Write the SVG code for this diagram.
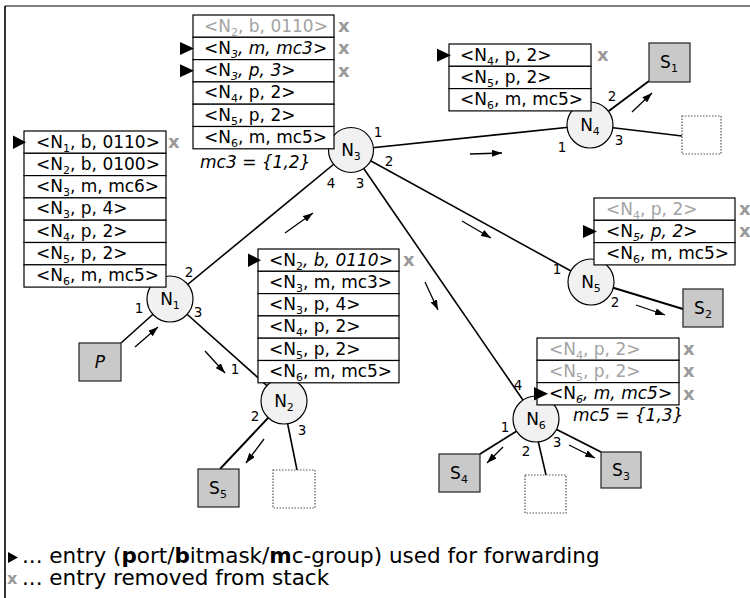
<svg xmlns="http://www.w3.org/2000/svg" width="750" height="598" viewBox="0 0 750 598">
  <defs>
    <style>
      text { font-family: Verdana, "DejaVu Sans", sans-serif; }
      .e { font-size: 17px; fill: #000; }
      .gone { fill: #a3a3a3; }
      .it { font-style: italic; }
      .sub { font-size: 11px; }
      .row { fill: #fff; stroke: #000; stroke-width: 1.2; }
      .rm { font-size: 18px; font-weight: bold; fill: #9a9a9a; }
      .use { fill: #000; }
      .node { fill: #f1f1f1; stroke: #000; stroke-width: 1.2; }
      .host { fill: #c9c9c9; stroke: #222; stroke-width: 1.2; }
      .idle { fill: #fff; stroke: #555; stroke-width: 1.2; stroke-dasharray: 1.5 1.5; }
      .link { stroke: #000; stroke-width: 1.6; fill: none; }
      .hlink { stroke: #000; stroke-width: 1.9; fill: none; }
      .flow { stroke: #000; stroke-width: 1.3; fill: none; marker-end: url(#head); }
      .port { font-size: 13.5px; fill: #000; text-anchor: middle; }
      .lbl { font-size: 17px; text-anchor: middle; }
      .leg { font-size: 21.5px; fill: #000; }
    </style>
    <marker id="head" viewBox="0 0 10 7" refX="10" refY="3.5" markerWidth="10" markerHeight="7" markerUnits="userSpaceOnUse" orient="auto">
      <path d="M0,0 L10,3.5 L0,7 z" fill="#000"/>
    </marker>
  </defs>

  <rect x="0" y="0" width="750" height="598" fill="#fff"/>
  <!-- frame -->
  <line x1="5" y1="6" x2="750" y2="6" stroke="#808080" stroke-width="2"/>
  <line x1="5" y1="6" x2="5" y2="598" stroke="#000" stroke-width="1.6"/>

  <!-- links and traffic direction -->
  <g id="connectors">
    <line class="link" x1="121" y1="343" x2="170" y2="299"/>
    <line class="link" x1="170" y1="299" x2="351" y2="150"/>
    <line class="link" x1="170" y1="299" x2="284" y2="401"/>
    <line class="hlink" x1="284" y1="401" x2="220" y2="469"/>
    <line class="link" x1="283" y1="401" x2="297" y2="470"/>
    <line class="link" x1="351" y1="150" x2="590" y2="125"/>
    <line class="hlink" x1="590" y1="125" x2="649" y2="81"/>
    <line class="link" x1="590" y1="125" x2="682" y2="136"/>
    <line class="link" x1="351" y1="150" x2="591" y2="282"/>
    <line class="hlink" x1="591" y1="281" x2="683" y2="309"/>
    <line class="link" x1="351" y1="150" x2="536" y2="419"/>
    <line class="hlink" x1="536" y1="419" x2="480" y2="454"/>
    <line class="link" x1="533" y1="419" x2="546" y2="475"/>
    <line class="hlink" x1="536" y1="419" x2="601" y2="452"/>

    <line class="flow" x1="135" y1="347" x2="158" y2="327"/>
    <line class="flow" x1="285" y1="233" x2="313" y2="213"/>
    <line class="flow" x1="205" y1="351" x2="225" y2="373"/>
    <line class="flow" x1="264" y1="439" x2="246" y2="463"/>
    <line class="flow" x1="470" y1="154" x2="502" y2="153"/>
    <line class="flow" x1="632" y1="112" x2="652" y2="93"/>
    <line class="flow" x1="462" y1="221" x2="491" y2="238"/>
    <line class="flow" x1="636" y1="305" x2="665" y2="315"/>
    <line class="flow" x1="425" y1="282" x2="438" y2="310"/>
    <line class="flow" x1="503" y1="447" x2="487" y2="463"/>
    <line class="flow" x1="569" y1="445" x2="595" y2="458"/>

    <!-- port numbers -->
    <text class="port" x="139" y="313">1</text>
    <text class="port" x="189" y="277">2</text>
    <text class="port" x="198" y="317">3</text>
    <text class="port" x="235" y="374">1</text>
    <text class="port" x="255" y="421">2</text>
    <text class="port" x="302" y="435">3</text>
    <text class="port" x="378" y="137">1</text>
    <text class="port" x="389" y="166">2</text>
    <text class="port" x="360" y="188">3</text>
    <text class="port" x="331" y="188">4</text>
    <text class="port" x="562" y="152">1</text>
    <text class="port" x="612" y="101">2</text>
    <text class="port" x="619" y="145">3</text>
    <text class="port" x="557" y="274">1</text>
    <text class="port" x="615" y="307">2</text>
    <text class="port" x="505" y="432">1</text>
    <text class="port" x="526" y="456">2</text>
    <text class="port" x="557" y="447">3</text>
    <text class="port" x="518" y="390">4</text>
  </g>

  <!-- switches -->
  <g id="n1"><circle class="node" cx="170" cy="299" r="23"/><text class="lbl" x="170" y="305">N<tspan class="sub" dy="4">1</tspan></text></g>
  <g id="n2"><circle class="node" cx="284" cy="401" r="23"/><text class="lbl" x="284" y="407">N<tspan class="sub" dy="4">2</tspan></text></g>
  <g id="n3"><circle class="node" cx="351" cy="150" r="22.5"/><text class="lbl" x="351" y="156">N<tspan class="sub" dy="4">3</tspan></text></g>
  <g id="n4"><circle class="node" cx="590" cy="125" r="23"/><text class="lbl" x="590" y="131">N<tspan class="sub" dy="4">4</tspan></text></g>
  <g id="n5"><circle class="node" cx="591" cy="282" r="23"/><text class="lbl" x="591" y="288">N<tspan class="sub" dy="4">5</tspan></text></g>
  <g id="n6"><circle class="node" cx="536" cy="419" r="23"/><text class="lbl" x="536" y="425">N<tspan class="sub" dy="4">6</tspan></text></g>

  <!-- end hosts -->
  <g id="p"><rect class="host" x="79" y="343" width="42" height="38"/><text class="lbl it" x="100" y="368">P</text></g>
  <g id="s1"><rect class="host" x="649" y="43" width="41" height="39"/><text class="lbl" x="669" y="68">S<tspan class="sub" dy="4">1</tspan></text></g>
  <g id="s2"><rect class="host" x="683" y="289" width="40" height="38"/><text class="lbl" x="703" y="314">S<tspan class="sub" dy="4">2</tspan></text></g>
  <g id="s3"><rect class="host" x="601" y="452" width="40" height="36"/><text class="lbl" x="621" y="476">S<tspan class="sub" dy="4">3</tspan></text></g>
  <g id="s4"><rect class="host" x="439" y="454" width="41" height="38"/><text class="lbl" x="459" y="479">S<tspan class="sub" dy="4">4</tspan></text></g>
  <g id="s5"><rect class="host" x="198" y="469" width="41" height="38"/><text class="lbl" x="218" y="494">S<tspan class="sub" dy="4">5</tspan></text></g>

  <!-- unused ports -->
  <g id="free-n2"><rect class="idle" x="273" y="470" width="42" height="38"/></g>
  <g id="free-n4"><rect class="idle" x="682" y="116" width="39" height="38"/></g>
  <g id="free-n6"><rect class="idle" x="525" y="475" width="41" height="38"/></g>

  <!-- label stack arriving at N1 -->
  <g id="stack-n1">
    <rect class="row" x="24" y="131" width="142" height="22.3"/>
    <rect class="row" x="24" y="153.3" width="142" height="22.3"/>
    <rect class="row" x="24" y="175.6" width="142" height="22.3"/>
    <rect class="row" x="24" y="197.9" width="142" height="22.3"/>
    <rect class="row" x="24" y="220.2" width="142" height="22.3"/>
    <rect class="row" x="24" y="242.5" width="142" height="22.3"/>
    <rect class="row" x="24" y="264.8" width="142" height="22.3"/>
    <text class="e" x="36" y="147.5">&lt;N<tspan class="sub" dy="4">1</tspan><tspan dy="-4">, b, 0110&gt;</tspan></text>
    <text class="e" x="36" y="169.8">&lt;N<tspan class="sub" dy="4">2</tspan><tspan dy="-4">, b, 0100&gt;</tspan></text>
    <text class="e" x="36" y="192.1">&lt;N<tspan class="sub" dy="4">3</tspan><tspan dy="-4">, m, mc6&gt;</tspan></text>
    <text class="e" x="36" y="214.4">&lt;N<tspan class="sub" dy="4">3</tspan><tspan dy="-4">, p, 4&gt;</tspan></text>
    <text class="e" x="36" y="236.7">&lt;N<tspan class="sub" dy="4">4</tspan><tspan dy="-4">, p, 2&gt;</tspan></text>
    <text class="e" x="36" y="259">&lt;N<tspan class="sub" dy="4">5</tspan><tspan dy="-4">, p, 2&gt;</tspan></text>
    <text class="e" x="36" y="281.3">&lt;N<tspan class="sub" dy="4">6</tspan><tspan dy="-4">, m, mc5&gt;</tspan></text>
    <polygon class="use" points="13,135.5 26,142.2 13,149"/>
    <text class="rm" x="168" y="148">x</text>
  </g>

  <!-- label stack arriving at N3 -->
  <g id="stack-n3">
    <rect class="row" x="193" y="15" width="141" height="22.3"/>
    <rect class="row" x="193" y="37.3" width="141" height="22.3"/>
    <rect class="row" x="193" y="59.6" width="141" height="22.3"/>
    <rect class="row" x="193" y="81.9" width="141" height="22.3"/>
    <rect class="row" x="193" y="104.2" width="141" height="22.3"/>
    <rect class="row" x="193" y="126.5" width="141" height="22.3"/>
    <text class="e gone" x="204" y="31.5">&lt;N<tspan class="sub" dy="4">2</tspan><tspan dy="-4">, b, 0110&gt;</tspan></text>
    <text class="e" x="204" y="53.8">&lt;N<tspan class="sub it" dy="4">3</tspan><tspan class="it" dy="-4">, m, mc3</tspan>&gt;</text>
    <text class="e" x="204" y="76.1">&lt;N<tspan class="sub it" dy="4">3</tspan><tspan class="it" dy="-4">, p, 3</tspan>&gt;</text>
    <text class="e" x="204" y="98.4">&lt;N<tspan class="sub" dy="4">4</tspan><tspan dy="-4">, p, 2&gt;</tspan></text>
    <text class="e" x="204" y="120.7">&lt;N<tspan class="sub" dy="4">5</tspan><tspan dy="-4">, p, 2&gt;</tspan></text>
    <text class="e" x="204" y="143">&lt;N<tspan class="sub" dy="4">6</tspan><tspan dy="-4">, m, mc5&gt;</tspan></text>
    <polygon class="use" points="180,42 194,48.5 180,55"/>
    <polygon class="use" points="180,64.3 194,70.8 180,77.3"/>
    <text class="rm" x="338" y="32">x</text>
    <text class="rm" x="338" y="54.3">x</text>
    <text class="rm" x="338" y="76.6">x</text>
    <text class="e it" x="200" y="168">mc3 = {1,2}</text>
  </g>

  <!-- label stack arriving at N4 -->
  <g id="stack-n4">
    <rect class="row" x="449" y="44" width="142" height="22.3"/>
    <rect class="row" x="449" y="66.3" width="142" height="22.3"/>
    <rect class="row" x="449" y="88.6" width="142" height="22.3"/>
    <text class="e" x="460" y="60.5">&lt;N<tspan class="sub" dy="4">4</tspan><tspan dy="-4">, p, 2&gt;</tspan></text>
    <text class="e" x="460" y="82.8">&lt;N<tspan class="sub" dy="4">5</tspan><tspan dy="-4">, p, 2&gt;</tspan></text>
    <text class="e" x="460" y="105.1">&lt;N<tspan class="sub" dy="4">6</tspan><tspan dy="-4">, m, mc5&gt;</tspan></text>
    <polygon class="use" points="437,48.7 451,55.2 437,61.7"/>
    <text class="rm" x="597" y="61">x</text>
  </g>

  <!-- label stack arriving at N5 -->
  <g id="stack-n5">
    <rect class="row" x="594" y="198" width="141" height="22.3"/>
    <rect class="row" x="594" y="220.3" width="141" height="22.3"/>
    <rect class="row" x="594" y="242.6" width="141" height="22.3"/>
    <text class="e gone" x="606" y="214.5">&lt;N<tspan class="sub" dy="4">4</tspan><tspan dy="-4">, p, 2&gt;</tspan></text>
    <text class="e" x="606" y="236.8">&lt;N<tspan class="sub it" dy="4">5</tspan><tspan class="it" dy="-4">, p, 2</tspan>&gt;</text>
    <text class="e" x="606" y="259.1">&lt;N<tspan class="sub" dy="4">6</tspan><tspan dy="-4">, m, mc5&gt;</tspan></text>
    <polygon class="use" points="583,225 597,231.5 583,238"/>
    <text class="rm" x="739" y="215">x</text>
    <text class="rm" x="739" y="237.3">x</text>
  </g>

  <!-- label stack arriving at N2 -->
  <g id="stack-n2">
    <rect class="row" x="258" y="249" width="141" height="22.3"/>
    <rect class="row" x="258" y="271.3" width="141" height="22.3"/>
    <rect class="row" x="258" y="293.6" width="141" height="22.3"/>
    <rect class="row" x="258" y="315.9" width="141" height="22.3"/>
    <rect class="row" x="258" y="338.2" width="141" height="22.3"/>
    <rect class="row" x="258" y="360.5" width="141" height="22.3"/>
    <text class="e" x="269" y="265.5">&lt;N<tspan class="sub" dy="4">2</tspan><tspan class="it" dy="-4">, b, 0110</tspan>&gt;</text>
    <text class="e" x="269" y="287.8">&lt;N<tspan class="sub" dy="4">3</tspan><tspan dy="-4">, m, mc3&gt;</tspan></text>
    <text class="e" x="269" y="310.1">&lt;N<tspan class="sub" dy="4">3</tspan><tspan dy="-4">, p, 4&gt;</tspan></text>
    <text class="e" x="269" y="332.4">&lt;N<tspan class="sub" dy="4">4</tspan><tspan dy="-4">, p, 2&gt;</tspan></text>
    <text class="e" x="269" y="354.7">&lt;N<tspan class="sub" dy="4">5</tspan><tspan dy="-4">, p, 2&gt;</tspan></text>
    <text class="e" x="269" y="377">&lt;N<tspan class="sub" dy="4">6</tspan><tspan dy="-4">, m, mc5&gt;</tspan></text>
    <polygon class="use" points="248,253.5 261,260.2 248,267"/>
    <text class="rm" x="403" y="266">x</text>
  </g>

  <!-- label stack arriving at N6 -->
  <g id="stack-n6">
    <rect class="row" x="537" y="338" width="142" height="22.3"/>
    <rect class="row" x="537" y="360.3" width="142" height="22.3"/>
    <rect class="row" x="537" y="382.6" width="142" height="22.3"/>
    <text class="e gone" x="549" y="354.5">&lt;N<tspan class="sub" dy="4">4</tspan><tspan dy="-4">, p, 2&gt;</tspan></text>
    <text class="e gone" x="549" y="376.8">&lt;N<tspan class="sub" dy="4">5</tspan><tspan dy="-4">, p, 2&gt;</tspan></text>
    <text class="e" x="549" y="399.1">&lt;N<tspan class="sub it" dy="4">6</tspan><tspan class="it" dy="-4">, m, mc5</tspan>&gt;</text>
    <polygon class="use" points="534,387 548,393.7 534,400.4"/>
    <text class="rm" x="683" y="355">x</text>
    <text class="rm" x="683" y="377.3">x</text>
    <text class="rm" x="683" y="399.6">x</text>
    <text class="e it" x="573" y="421">mc5 = {1,3}</text>
  </g>

  <!-- legend -->
  <g id="legend">
    <polygon class="use" points="8,552 18,557.5 8,563"/>
    <text class="leg" x="22" y="563">... entry (<tspan font-weight="bold">p</tspan>ort/<tspan font-weight="bold">b</tspan>itmask/<tspan font-weight="bold">m</tspan>c-group) used for forwarding</text>
    <text class="rm" x="7" y="584" style="font-size:16px">x</text>
    <text class="leg" x="22" y="585">... entry removed from stack</text>
  </g>
</svg>
